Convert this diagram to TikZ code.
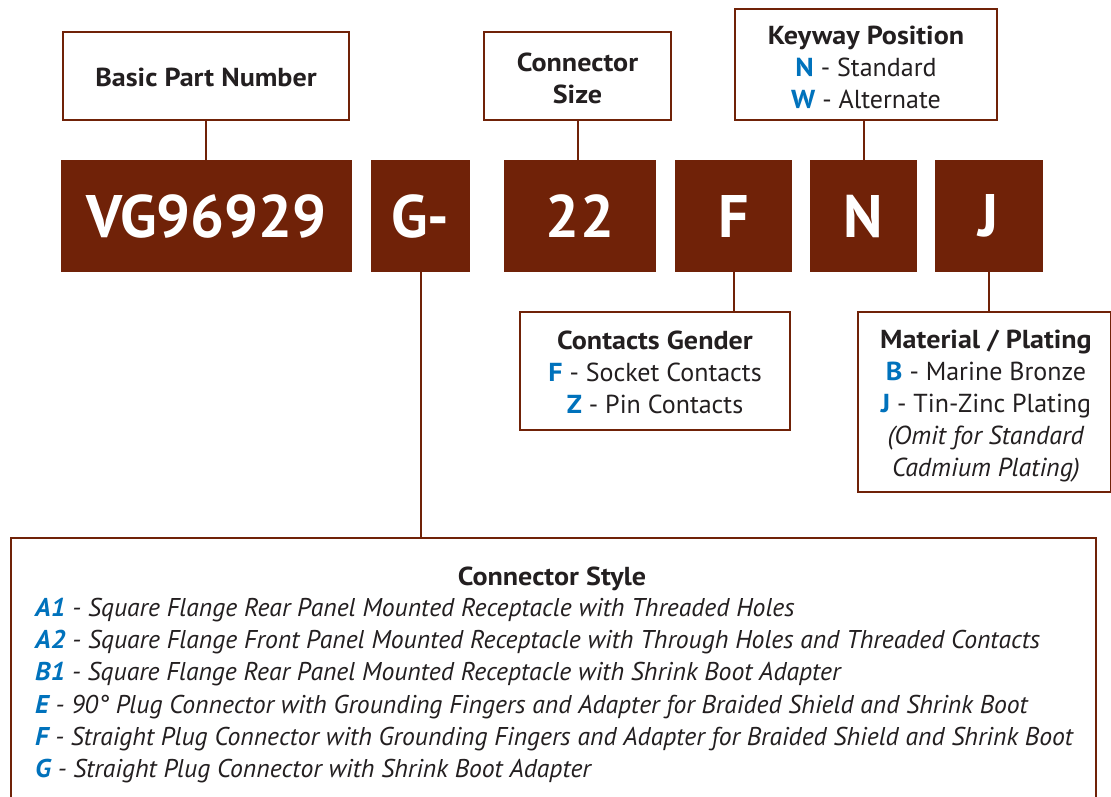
\documentclass[tikz,border=0pt]{standalone}
\usepackage{fontspec}
\setmainfont{PT Sans}
\definecolor{brn}{RGB}{112,34,8}
\definecolor{blu}{RGB}{0,114,188}
\definecolor{txt}{RGB}{35,31,32}
\newcommand{\tb}[1]{\scalebox{1.08}[1]{\textbf{#1}}}
\newcommand{\kk}[1]{\textcolor{blu}{\tb{#1}}}
\newcommand{\kki}[1]{\textcolor{blu}{\scalebox{1.05}[1]{\textbf{\itshape #1}}}}
\begin{document}
\begin{tikzpicture}[x=1pt,y=-1pt,
  infobox/.style={draw=brn, line width=2pt, fill=white, inner sep=0pt},
  boxtext/.style={align=center, text=txt, font=\fontsize{26}{32}\selectfont, inner sep=0pt},
  codebox/.style={fill=brn, text=white, font=\bfseries\fontsize{60}{60}\selectfont,
    inner sep=0pt, minimum height=112},
  link/.style={draw=brn, line width=2pt},
  item/.style={text=txt, font=\itshape\fontsize{25.7}{32}\selectfont, inner sep=0pt, anchor=base west}
]
\useasboundingbox (0,0) rectangle (1111,797);
\clip (0,0) rectangle (1111,797);
% code boxes
\node[codebox, minimum width=291] (vg) at (206.5,216) {VG96929};
\node[codebox, minimum width=99] (g) at (420.5,216) {G-};
\node[codebox, minimum width=152] (sz) at (580,216) {22};
\node[codebox, minimum width=117] (f) at (733.5,216) {F};
\node[codebox, minimum width=107] (n) at (863.5,216) {N};
\node[codebox, minimum width=108] (j) at (989,216) {J};
% info boxes
\node[infobox, minimum width=286, minimum height=88] (bpn) at (206,76) {};
\node[boxtext] (bpnt) at (206,77) {\tb{Basic Part Number}};
\node[infobox, minimum width=187, minimum height=88] (csz) at (577.5,76) {};
\node[boxtext] (cszt) at (577.5,78) {\tb{Connector}\\\tb{Size}};
\node[infobox, minimum width=262, minimum height=111] (kw) at (866,64.5) {};
\node[boxtext] (kwt) at (866,67.5) {\tb{Keyway Position}\\\kk{N} - Standard\\\kk{W} - Alternate};
\node[infobox, minimum width=270, minimum height=118] (cg) at (655,371) {};
\node[boxtext] (cgt) at (655,372) {\tb{Contacts Gender}\\\kk{F} - Socket Contacts\\\kk{Z} - Pin Contacts};
\node[infobox, minimum width=253, minimum height=180] (mp) at (984,402) {};
\node[boxtext] (mpt) at (986,406) {\tb{Material / Plating}\\\kk{B} - Marine Bronze\\\kk{J} - Tin-Zinc Plating\\\textit{(Omit for Standard}\\\textit{Cadmium Plating)}};
\node[infobox, minimum width=1085, minimum height=300, anchor=north west] (cs) at (10,537) {};
% connectors
\draw[link] (bpn.south) -- (vg.north -| bpn.south);
\draw[link] (csz.south) -- (sz.north -| csz.south);
\draw[link] (kw.south -| n.north) -- (n.north);
\draw[link] (f.south) -- (cg.north -| f.south);
\draw[link] (j.south) -- (mp.north -| j.south);
\draw[link] (g.south) -- (cs.north -| g.south);
% connector style text
\node[text=txt, font=\fontsize{26}{32}\selectfont, inner sep=0pt, anchor=base] (cst) at (552,585) {\tb{Connector Style}};
\node[item] (s1) at (35,616) {\kki{A1} - Square Flange Rear Panel Mounted Receptacle with Threaded Holes};
\node[item] (s2) at (35,648) {\kki{A2} - Square Flange Front Panel Mounted Receptacle with Through Holes and Threaded Contacts};
\node[item] (s3) at (35,680) {\kki{B1} - Square Flange Rear Panel Mounted Receptacle with Shrink Boot Adapter};
\node[item] (s4) at (35,713) {\kki{E} - 90° Plug Connector with Grounding Fingers and Adapter for Braided Shield and Shrink Boot};
\node[item] (s5) at (35,745) {\kki{F} - Straight Plug Connector with Grounding Fingers and Adapter for Braided Shield and Shrink Boot};
\node[item] (s6) at (35,777) {\kki{G} - Straight Plug Connector with Shrink Boot Adapter};
\end{tikzpicture}
\end{document}
